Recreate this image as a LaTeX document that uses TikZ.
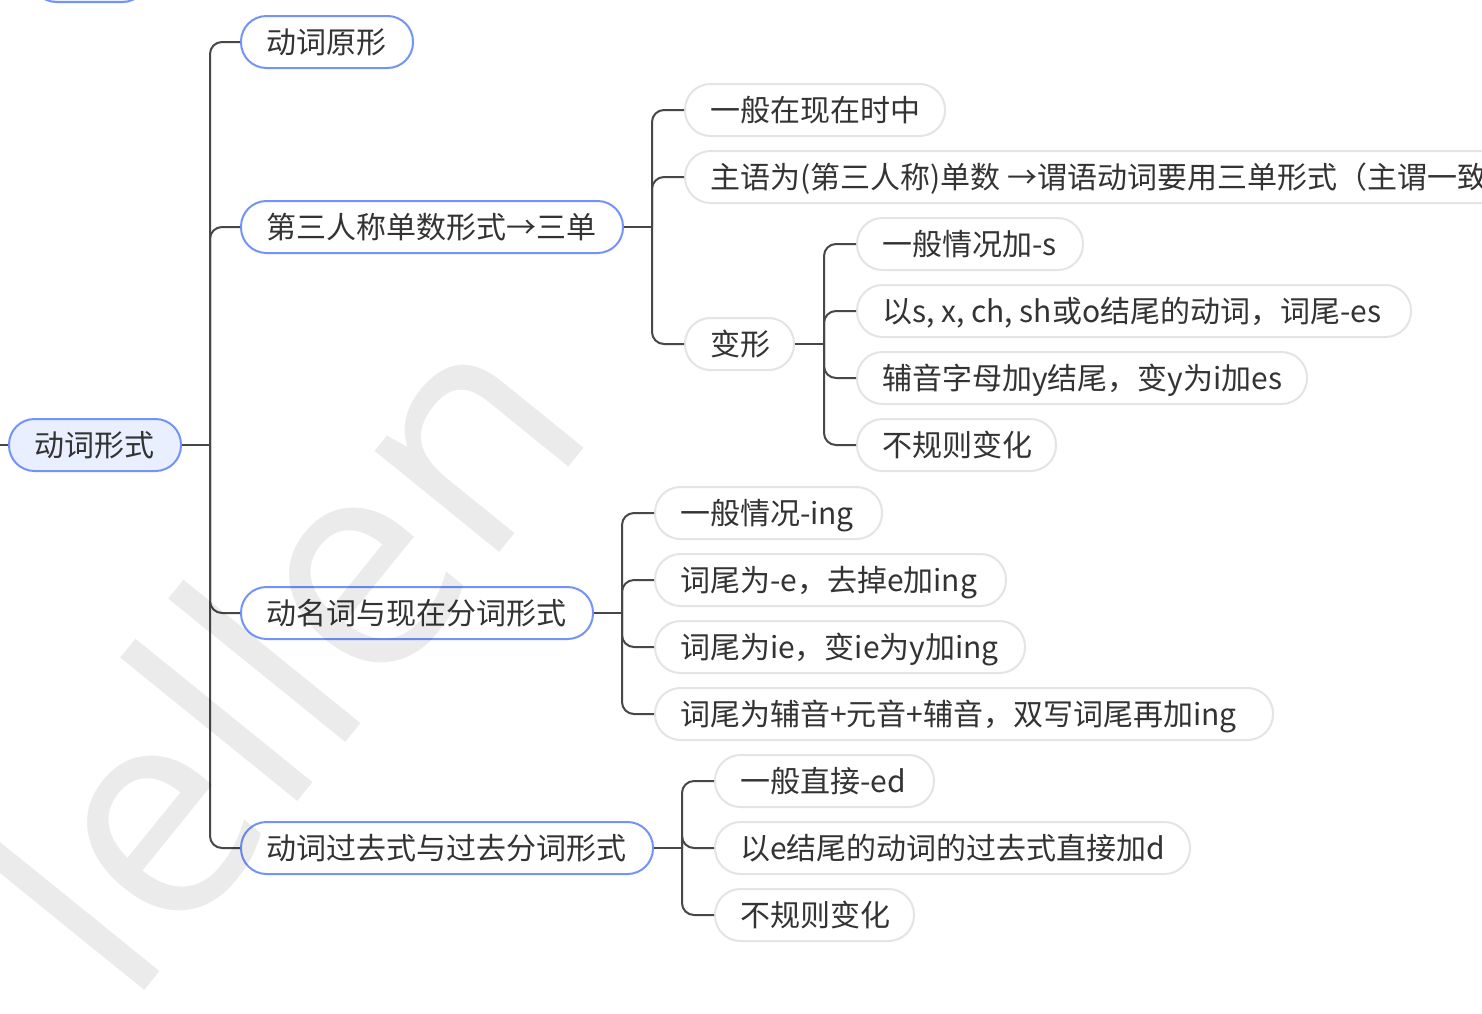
\documentclass[tikz,border=0pt]{standalone}
\usepackage{fontspec}
\setmainfont{Noto Sans CJK SC}
\newfontfamily\wmfont{Open Sans}
\definecolor{blueb}{HTML}{7393FA}
\definecolor{rootfill}{HTML}{E9EFFF}
\definecolor{grayb}{HTML}{E4E4E4}
\definecolor{linec}{HTML}{474747}
\definecolor{txt}{HTML}{333333}
\newcommand{\tbox}[2]{\makebox[#1pt][l]{#2}}
\begin{document}
\begin{tikzpicture}[x=1pt,y=-1pt,
  pill/.style={rounded corners=25.5pt, minimum height=52pt, inner xsep=25pt, inner ysep=0pt,
    text height=23pt, text depth=0pt, anchor=west, line width=2pt,
    font=\fontsize{30}{36}\selectfont, text=txt},
  rootnode/.style={pill, fill=rootfill, draw=blueb},
  lone/.style={pill, fill=white, draw=blueb},
  ltwo/.style={pill, fill=white, draw=grayb},
  conn/.style={draw=linec, line width=2pt, rounded corners=12pt}]
\useasboundingbox (0,0) rectangle (1482,1013);
\clip (0,0) rectangle (1482,1013);
\fill[white] (0,0) rectangle (1482,1013);

% coordinates for junctions
\coordinate (lft) at (-5,445);
\coordinate (j0) at (210,445);
\coordinate (j1) at (652,227);
\coordinate (j2) at (824,344);
\coordinate (j3) at (622,613);
\coordinate (j4) at (682,848);

% partial node at top-left
\node[rootnode, minimum width=117pt] (top) at (30,-24) {};

% root
\node[rootnode] (root) at (8,445) {\tbox{122}{动词形式}};

% level 1
\node[lone] (a1) at (240,42) {\tbox{122}{动词原形}};
\node[lone] (a2) at (240,227) {\tbox{332}{第三人称单数形式→三单}};
\node[lone] (a3) at (240,613) {\tbox{302}{动名词与现在分词形式}};
\node[lone] (a4) at (240,848) {\tbox{362}{动词过去式与过去分词形式}};

% under a2
\node[ltwo] (b1) at (684,110) {\tbox{210}{一般在现在时中}};
\node[ltwo] (b2) at (684,177) {\tbox{820}{主语为(第三人称)单数 →谓语动词要用三单形式（主谓一致}};
\node[ltwo] (b3) at (684,344) {\tbox{59}{变形}};

% under b3
\node[ltwo] (c1) at (856,244) {\tbox{176}{一般情况加-s}};
\node[ltwo] (c2) at (856,311) {\tbox{504}{以s, x, ch, sh或o结尾的动词，词尾-es}};
\node[ltwo] (c3) at (856,378) {\tbox{400}{辅音字母加y结尾，变y为i加es}};
\node[ltwo] (c4) at (856,445) {\tbox{149}{不规则变化}};

% under a3
\node[ltwo] (d1) at (654,513) {\tbox{177}{一般情况-ing}};
\node[ltwo] (d2) at (654,580) {\tbox{301}{词尾为-e，去掉e加ing}};
\node[ltwo] (d3) at (654,647) {\tbox{320}{词尾为ie，变ie为y加ing}};
\node[ltwo] (d4) at (654,714) {\tbox{568}{词尾为辅音+元音+辅音，双写词尾再加ing}};

% under a4
\node[ltwo] (e1) at (714,781) {\tbox{169}{一般直接-ed}};
\node[ltwo] (e2) at (714,848) {\tbox{425}{以e结尾的动词的过去式直接加d}};
\node[ltwo] (e3) at (714,915) {\tbox{149}{不规则变化}};

% connectors
\draw[conn] (lft) -- (root.west);
\draw[conn] (root.east) -- (j0);
\foreach \n in {a1,a2,a3,a4} \draw[conn] (j0) |- (\n.west);
\draw[conn] (a2.east) -- (j1);
\foreach \n in {b1,b2,b3} \draw[conn] (j1) |- (\n.west);
\draw[conn] (b3.east) -- (j2);
\foreach \n in {c1,c2,c3,c4} \draw[conn] (j2) |- (\n.west);
\draw[conn] (a3.east) -- (j3);
\foreach \n in {d1,d2,d3,d4} \draw[conn] (j3) |- (\n.west);
\draw[conn] (a4.east) -- (j4);
\foreach \n in {e1,e2,e3} \draw[conn] (j4) |- (\n.west);

% watermark
\node[rotate=51, anchor=base west, inner sep=0pt, text=black, text opacity=0.08,
  font=\wmfont\fontsize{300}{300}\selectfont] (wm) at (128,1011) {lellen};
\end{tikzpicture}
\end{document}
